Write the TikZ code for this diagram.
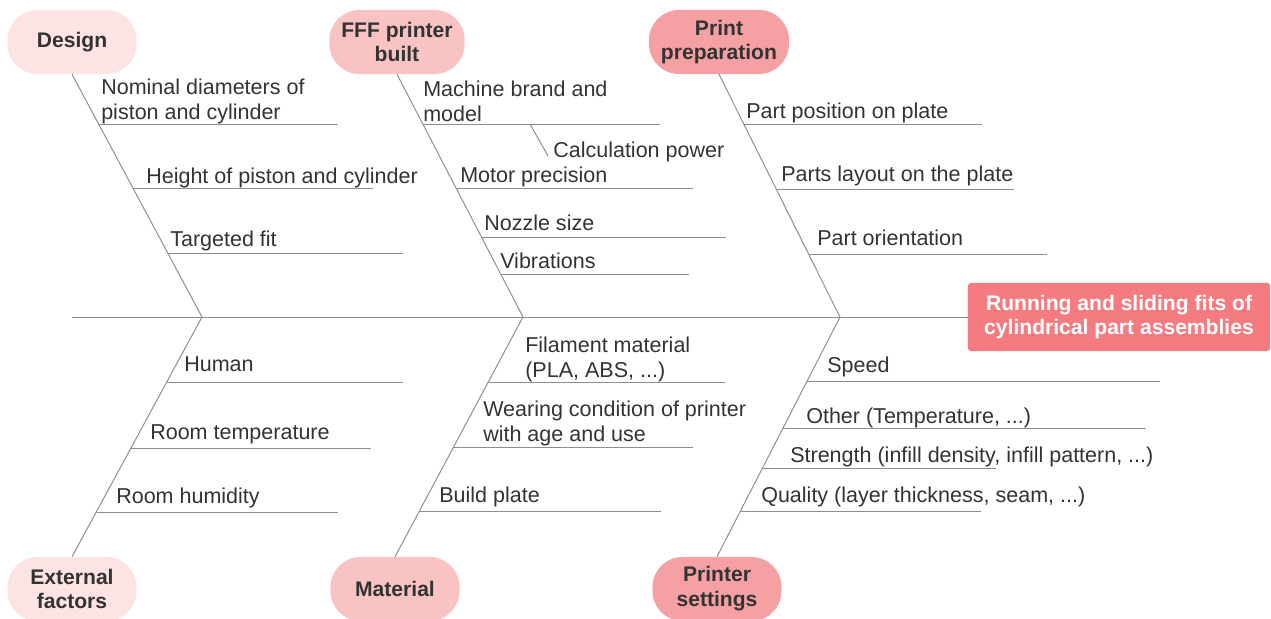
\documentclass[tikz,border=0pt]{standalone}
\usepackage{fontspec}
\setmainfont{Liberation Sans}
\usetikzlibrary{positioning}
\definecolor{bonegray}{HTML}{8E8E8E}
\definecolor{textdark}{HTML}{333333}
\definecolor{pinklight}{HTML}{FDE3E3}
\definecolor{pinkmid}{HTML}{F9C3C4}
\definecolor{pinkdeep}{HTML}{F5A1A4}
\definecolor{effectred}{HTML}{F47B80}

\begin{document}
\begin{tikzpicture}[x=0.025cm,y=-0.025cm,
  catbox/.style={rounded corners=0.75cm,minimum width=3.225cm,minimum height=1.6cm,inner xsep=0.3cm,align=center,font=\bfseries\fontsize{15}{17.7}\selectfont,text=textdark},
  cause/.style={anchor=base west,inner sep=0pt,align=left,font=\fontsize{15.3}{17.7}\selectfont,text=textdark},
  bone/.style={draw=bonegray,line width=0.7pt}]
\useasboundingbox (0,0) rectangle (1271,619);

% categories and effect
\node[catbox,fill=pinklight] (design) at (72,42) {Design};
\node[catbox,fill=pinkmid] (fff) at (397,42) {FFF printer\\built};
\node[catbox,fill=pinkdeep] (prep) at (719,42) {Print\\preparation};
\node[catbox,fill=pinklight] (extf) at (72,589) {External\\factors};
\node[catbox,fill=pinkmid] (material) at (395,589) {Material};
\node[catbox,fill=pinkdeep] (settings) at (717,589) {Printer\\settings};
\node[fill=effectred,rounded corners=2pt,minimum width=7.55cm,minimum height=1.7cm,align=center,text=white,font=\bfseries\fontsize{15}{17.7}\selectfont] (effect) at (1119,317) {Running and sliding fits of\\cylindrical part assemblies};

% spine and bones
\coordinate (tail) at (72,317);
\coordinate (j1) at (202,317);
\coordinate (j2) at (523,317);
\coordinate (j3) at (840,317);
\draw[bone] (tail) -- (effect.west);
\draw[bone] (design.south) -- (j1);
\draw[bone] (fff.south) -- (j2);
\draw[bone] (prep.south) -- (j3);
\draw[bone] (extf.north) -- (j1);
\draw[bone] (material.north) -- (j2);
\draw[bone] (settings.north) -- (j3);

% Design
\node[cause] (nomdia) at (101,119) {Nominal diameters of\\piston and cylinder};
\node[cause] (height) at (146,183) {Height of piston and cylinder};
\node[cause] (target) at (170,246) {Targeted fit};
\coordinate (nomdia-a) at (99,124);   \coordinate (nomdia-b) at (338,124);
\coordinate (height-a) at (133,188);  \coordinate (height-b) at (373,188);
\coordinate (target-a) at (168,253);  \coordinate (target-b) at (403,253);
\draw[bone] (nomdia-a) -- (nomdia-b);
\draw[bone] (height-a) -- (height-b);
\draw[bone] (target-a) -- (target-b);

% FFF printer built
\node[cause] (machine) at (423,121) {Machine brand and\\model};
\node[cause] (calc) at (553,157) {Calculation power};
\node[cause] (motor) at (460,182) {Motor precision};
\node[cause] (nozzle) at (484,230) {Nozzle size};
\node[cause] (vib) at (500,268) {Vibrations};
\coordinate (machine-a) at (423,124); \coordinate (machine-b) at (660,124);
\coordinate (calc-a) at (530,124);    \coordinate (calc-b) at (548,156);
\coordinate (motor-a) at (456,188);   \coordinate (motor-b) at (693,188);
\coordinate (nozzle-a) at (481,237);  \coordinate (nozzle-b) at (726,237);
\coordinate (vib-a) at (501,274);     \coordinate (vib-b) at (689,274);
\draw[bone] (machine-a) -- (machine-b);
\draw[bone] (calc-a) -- (calc-b);
\draw[bone] (motor-a) -- (motor-b);
\draw[bone] (nozzle-a) -- (nozzle-b);
\draw[bone] (vib-a) -- (vib-b);

% Print preparation
\node[cause] (partpos) at (746,118) {Part position on plate};
\node[cause] (layout) at (781,181) {Parts layout on the plate};
\node[cause] (orient) at (817,245) {Part orientation};
\coordinate (partpos-a) at (744,124); \coordinate (partpos-b) at (982,124);
\coordinate (layout-a) at (776,189);  \coordinate (layout-b) at (1014,189);
\coordinate (orient-a) at (809,254);  \coordinate (orient-b) at (1047,254);
\draw[bone] (partpos-a) -- (partpos-b);
\draw[bone] (layout-a) -- (layout-b);
\draw[bone] (orient-a) -- (orient-b);

% External factors
\node[cause] (human) at (184,371) {Human};
\node[cause] (roomtemp) at (150,439) {Room temperature};
\node[cause] (humid) at (116,503) {Room humidity};
\coordinate (human-a) at (167,382);    \coordinate (human-b) at (403,382);
\coordinate (roomtemp-a) at (131,448); \coordinate (roomtemp-b) at (371,448);
\coordinate (humid-a) at (97,512);     \coordinate (humid-b) at (338,512);
\draw[bone] (human-a) -- (human-b);
\draw[bone] (roomtemp-a) -- (roomtemp-b);
\draw[bone] (humid-a) -- (humid-b);

% Material
\node[cause] (filament) at (525,377) {Filament material\\(PLA, ABS, ...)};
\node[cause] (wearing) at (483,441) {Wearing condition of printer\\with age and use};
\node[cause] (build) at (439,502) {Build plate};
\coordinate (filament-a) at (489,382); \coordinate (filament-b) at (725,382);
\coordinate (wearing-a) at (454,447);  \coordinate (wearing-b) at (693,447);
\coordinate (build-a) at (420,511);    \coordinate (build-b) at (661,511);
\draw[bone] (filament-a) -- (filament-b);
\draw[bone] (wearing-a) -- (wearing-b);
\draw[bone] (build-a) -- (build-b);

% Printer settings
\node[cause] (speed) at (827,372) {Speed};
\node[cause] (other) at (806,423) {Other (Temperature, ...)};
\node[cause] (strength) at (790,462) {Strength (infill density, infill pattern, ...)};
\node[cause] (quality) at (761,502) {Quality (layer thickness, seam, ...)};
\coordinate (speed-a) at (807,381);    \coordinate (speed-b) at (1160,381);
\coordinate (other-a) at (783,428);    \coordinate (other-b) at (1146,428);
\coordinate (strength-a) at (763,468); \coordinate (strength-b) at (996,468);
\coordinate (quality-a) at (741,511);  \coordinate (quality-b) at (981,511);
\draw[bone] (speed-a) -- (speed-b);
\draw[bone] (other-a) -- (other-b);
\draw[bone] (strength-a) -- (strength-b);
\draw[bone] (quality-a) -- (quality-b);
\end{tikzpicture}
\end{document}
